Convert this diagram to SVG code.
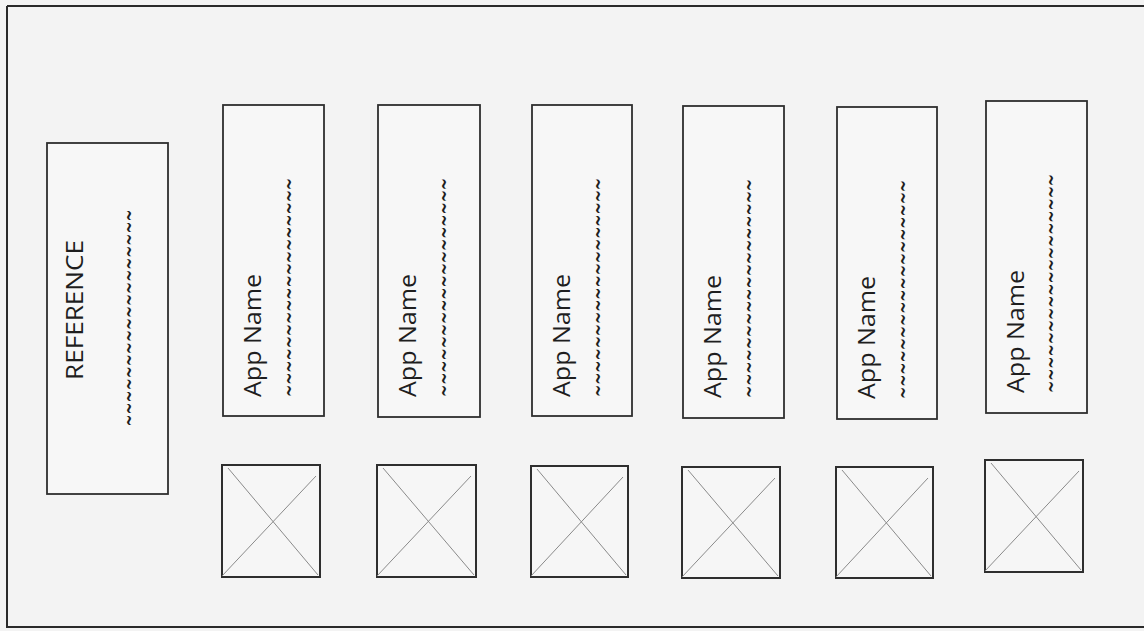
<svg xmlns="http://www.w3.org/2000/svg" width="1144" height="631" viewBox="0 0 1144 631">
<style>
.bg{fill:#f3f3f3}
.box{fill:#f7f7f7;stroke:#2e2e2e;stroke-width:1.8}
.img{fill:#f6f6f6;stroke:#2e2e2e;stroke-width:2}
.x{stroke:#8a8a8a;stroke-width:1;fill:none}
.t{font-family:"Open Sans","Liberation Sans",sans-serif;font-size:23px;fill:#1e1e1e}
.sq{font-family:"DejaVu Sans",sans-serif;font-size:26px;fill:#1e1e1e}
</style>
<rect class="bg" x="0" y="0" width="1144" height="631"/>
<path d="M7 6 H1144 M7 6 V627 H1144" fill="none" stroke="#2a2a2a" stroke-width="2"/>
<g id="reference">
<rect class="box" x="47" y="143" width="121" height="351"/>
<text class="t" transform="translate(83,310) rotate(-90)" text-anchor="middle" textLength="140" lengthAdjust="spacingAndGlyphs">REFERENCE</text>
<text class="sq" transform="translate(137,318) rotate(-90)" text-anchor="middle" textLength="217" lengthAdjust="spacingAndGlyphs">~~~~~~~~~~~~~~~~~~</text>
</g>
<g id="app1">
<rect class="box" x="223" y="105" width="101" height="311"/>
<text class="t" transform="translate(261,397) rotate(-90)" textLength="123" lengthAdjust="spacingAndGlyphs">App Name</text>
<text class="sq" transform="translate(297,397) rotate(-90)" textLength="219" lengthAdjust="spacingAndGlyphs">~~~~~~~~~~~~~~~~~~</text>
</g>
<g id="app2">
<rect class="box" x="378" y="105" width="102" height="312"/>
<text class="t" transform="translate(416,397) rotate(-90)" textLength="123" lengthAdjust="spacingAndGlyphs">App Name</text>
<text class="sq" transform="translate(452,397) rotate(-90)" textLength="219" lengthAdjust="spacingAndGlyphs">~~~~~~~~~~~~~~~~~~</text>
</g>
<g id="app3">
<rect class="box" x="532" y="105" width="100" height="311"/>
<text class="t" transform="translate(570,397) rotate(-90)" textLength="123" lengthAdjust="spacingAndGlyphs">App Name</text>
<text class="sq" transform="translate(606,397) rotate(-90)" textLength="219" lengthAdjust="spacingAndGlyphs">~~~~~~~~~~~~~~~~~~</text>
</g>
<g id="app4">
<rect class="box" x="683" y="106" width="101" height="312"/>
<text class="t" transform="translate(721,398) rotate(-90)" textLength="123" lengthAdjust="spacingAndGlyphs">App Name</text>
<text class="sq" transform="translate(757,398) rotate(-90)" textLength="219" lengthAdjust="spacingAndGlyphs">~~~~~~~~~~~~~~~~~~</text>
</g>
<g id="app5">
<rect class="box" x="837" y="107" width="100" height="312"/>
<text class="t" transform="translate(875,399) rotate(-90)" textLength="123" lengthAdjust="spacingAndGlyphs">App Name</text>
<text class="sq" transform="translate(911,399) rotate(-90)" textLength="219" lengthAdjust="spacingAndGlyphs">~~~~~~~~~~~~~~~~~~</text>
</g>
<g id="app6">
<rect class="box" x="986" y="101" width="101" height="312"/>
<text class="t" transform="translate(1024,393) rotate(-90)" textLength="123" lengthAdjust="spacingAndGlyphs">App Name</text>
<text class="sq" transform="translate(1059,393) rotate(-90)" textLength="219" lengthAdjust="spacingAndGlyphs">~~~~~~~~~~~~~~~~~~</text>
</g>
<g id="img1"><rect class="img" x="222" y="465" width="98" height="112"/><path class="x" d="M228 468 L318 575 M222 576 L316 476"/></g>
<g id="img2"><rect class="img" x="377" y="465" width="99" height="112"/><path class="x" d="M383 468 L474 575 M377 576 L471 476"/></g>
<g id="img3"><rect class="img" x="531" y="466" width="97" height="111"/><path class="x" d="M537 469 L626 575 M531 576 L623 477"/></g>
<g id="img4"><rect class="img" x="682" y="467" width="98" height="111"/><path class="x" d="M688 470 L778 576 M682 577 L775 478"/></g>
<g id="img5"><rect class="img" x="836" y="467" width="97" height="111"/><path class="x" d="M842 470 L931 576 M836 577 L928 478"/></g>
<g id="img6"><rect class="img" x="985" y="460" width="98" height="112"/><path class="x" d="M991 463 L1081 570 M985 571 L1079 471"/></g>
<g id="connectors"></g>
</svg>
